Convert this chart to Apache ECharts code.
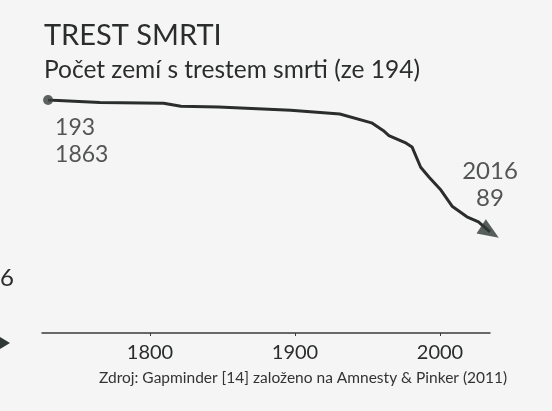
<!DOCTYPE html>
<html>
<head>
<meta charset="utf-8">
<script src="https://cdn.jsdelivr.net/npm/echarts@6/dist/echarts.min.js"></script>
<style>
  html, body { margin: 0; padding: 0; background: #f5f5f6; }
  #main { width: 552px; height: 411px; }
</style>
</head>
<body>
<div id="main"></div>
<script>
// values
const years = [1863, 1881, 1903, 1909, 1922, 1947, 1964, 1975, 1979, 1981, 1987, 1989, 1992, 1995, 1999, 2003, 2008, 2012, 2016]
const counts = [193, 191, 190.5, 188, 187.5, 185, 182, 175, 169, 165, 159, 156, 140, 132, 122, 109, 101, 97, 89]
const axisYears = [1800, 1900, 2000]

const titleText = 'TREST SMRTI'
const subtitleText = 'Počet zemí s trestem smrti (ze 194)'
const sourceText = 'Zdroj: Gapminder [14] založeno na Amnesty & Pinker (2011)'

const FONT = 'Lato'
const INK = '#2b2d2d'

const chart = echarts.init(document.getElementById('main'))
const points = years.map((y, i) => [y, counts[i]])
const last = points.length - 1

chart.setOption({
  backgroundColor: '#f5f5f6',
  textStyle: { fontFamily: FONT, color: INK },
  title: [{
    text: titleText,
    subtext: subtitleText,
    left: 44,
    top: 21,
    padding: 0,
    itemGap: 8,
    textStyle: { fontFamily: FONT, fontSize: 29, fontWeight: 'normal', color: INK },
    subtextStyle: { fontFamily: FONT, fontSize: 24.5, color: INK }
  }, {
    text: sourceText,
    left: 99,
    top: 370,
    padding: 0,
    textStyle: { fontFamily: FONT, fontSize: 15.5, fontWeight: 'normal', color: '#333' }
  }],
  grid: { left: 42, right: 62, top: 100, bottom: 78 },
  xAxis: [{
    // data axis (the drawing is schematic, so the years run on their own scale)
    type: 'value',
    show: false,
    min: 1860.9,
    max: 2016
  }, {
    type: 'value',
    position: 'bottom',
    min: 1725.5,
    max: 2034.5,
    splitLine: { show: false },
    axisLine: { show: true, lineStyle: { color: '#3a3a3a', width: 1.5 } },
    axisTick: { show: true, customValues: axisYears, length: 3, lineStyle: { color: '#3a3a3a' } },
    axisLabel: {
      customValues: axisYears,
      formatter: v => String(v),
      fontFamily: FONT,
      fontSize: 20,
      color: INK,
      margin: 10
    }
  }],
  yAxis: {
    type: 'value',
    show: false,
    min: 9.4,
    max: 193
  },
  series: [{
    type: 'line',
    xAxisIndex: 0,
    data: points,
    symbol: 'none',
    clip: false,
    lineStyle: { color: INK, width: 3 },
    silent: true,
    z: 2
  }, {
    type: 'scatter',
    xAxisIndex: 0,
    clip: false,
    silent: true,
    z: 3,
    data: [{
      value: points[0],
      symbol: 'circle',
      symbolSize: 10,
      itemStyle: { color: '#3a3d3d' },
      label: {
        show: true,
        position: [12, 19],
        align: 'left',
        formatter: p => p.value[1] + '\n' + p.value[0],
        fontFamily: FONT,
        fontSize: 23,
        lineHeight: 27,
        color: INK
      }
    }, {
      value: points[last],
      symbol: 'triangle',
      symbolSize: [17, 21],
      symbolRotate: -123,
      itemStyle: { color: '#2f3835' },
      label: {
        show: true,
        position: 'top',
        distance: 7,
        align: 'center',
        formatter: p => p.value[0] + '\n' + p.value[1],
        fontFamily: FONT,
        fontSize: 24,
        lineHeight: 27,
        color: INK
      }
    }]
  }],
  graphic: [{
    type: 'text',
    left: 0,
    top: 266,
    style: { text: '6', font: '24px Lato', fill: INK }
  }, {
    type: 'polygon',
    shape: { points: [[0, 337], [10, 343], [0, 349]] },
    style: { fill: '#2f3835' }
  }]
})
</script>
</body>
</html>
